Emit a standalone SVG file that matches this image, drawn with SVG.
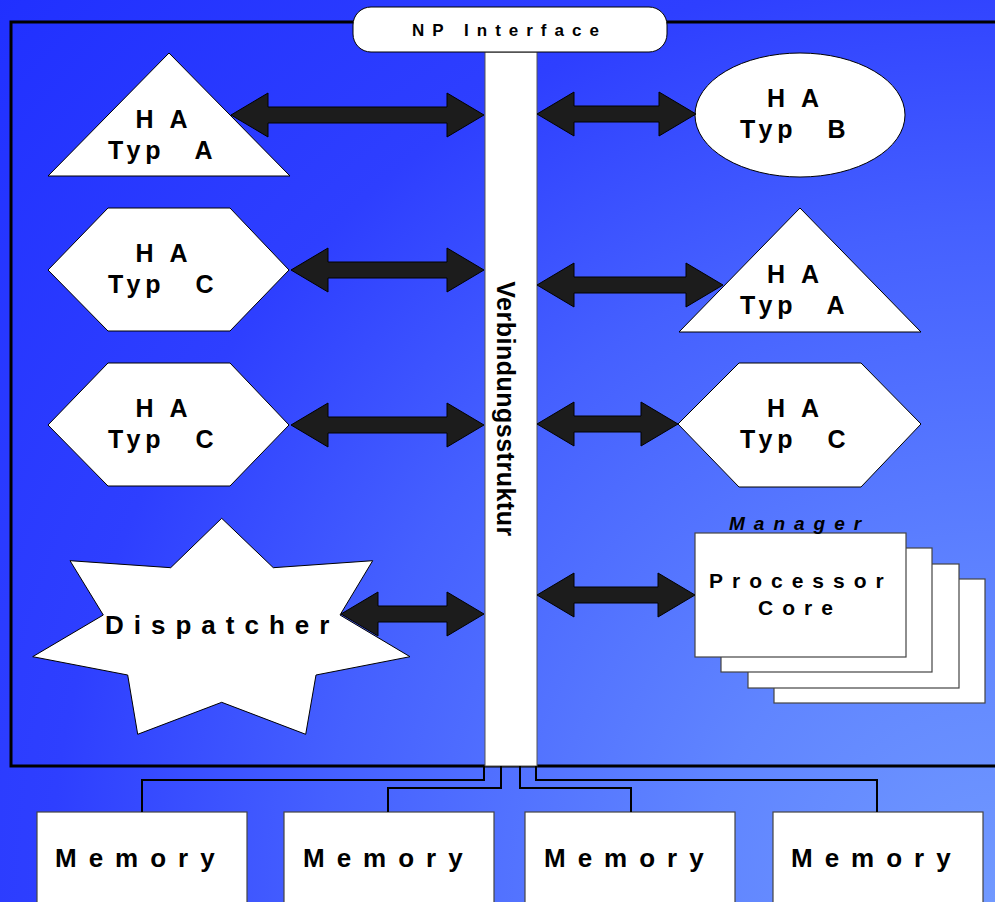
<svg xmlns="http://www.w3.org/2000/svg" width="995" height="902" viewBox="0 0 995 902">
  <defs>
    <radialGradient id="bg" gradientUnits="userSpaceOnUse" cx="995" cy="902" r="1350">
      <stop offset="0" stop-color="#7199ff"/>
      <stop offset="0.22" stop-color="#6085ff"/>
      <stop offset="0.5" stop-color="#4560ff"/>
      <stop offset="0.7" stop-color="#2e3fff"/>
      <stop offset="1" stop-color="#2030ff"/>
    </radialGradient>
    <style>
      .shape { fill:#fff; stroke:#000; stroke-width:1; }
      .box { fill:#fff; stroke:#444; stroke-width:1.2; }
      .arrow { fill:#1c1c1c; stroke:#000; stroke-width:1; }
      .wire { fill:none; stroke:#000; stroke-width:2; }
      .lbl { font-family:"Liberation Sans", Arial, sans-serif; font-weight:bold; fill:#000; }
      .ha { font-size:25px; letter-spacing:5px; }
      .wide { word-spacing:18px; }
    </style>
  </defs>

  <!-- background -->
  <rect x="0" y="0" width="995" height="902" fill="url(#bg)"/>

  <!-- chip frame -->
  <rect x="11" y="22" width="1000" height="744" fill="none" stroke="#000" stroke-width="3"/>

  <!-- interconnect bar -->
  <g id="verbindungsstruktur">
    <rect x="485" y="52" width="52" height="714" fill="#fff" stroke="#555" stroke-width="1"/>
    <text class="lbl" font-size="25" letter-spacing="0.5" text-anchor="middle" transform="translate(497,409) rotate(90)">Verbindungsstruktur</text>
  </g>

  <!-- network processor interface -->
  <g id="np-interface">
    <rect x="353" y="7" width="314" height="45" rx="18" ry="18" fill="#fff" stroke="#000" stroke-width="1"/>
    <text class="lbl" x="412" y="36" font-size="17" letter-spacing="8">NP Interface</text>
  </g>

  <!-- hardware accelerators, left column -->
  <g id="ha-a-left">
    <polygon class="shape" points="169,53 290,176 48,176"/>
    <text class="lbl ha" x="135.5" y="128">H A</text>
    <text class="lbl ha wide" x="108" y="159">Typ A</text>
  </g>
  <g id="ha-c-left-1">
    <polygon class="shape" points="48,270 108,208 230,208 289,270 230,331 108,331"/>
    <text class="lbl ha" x="135.5" y="262">H A</text>
    <text class="lbl ha wide" x="108" y="293">Typ C</text>
  </g>
  <g id="ha-c-left-2">
    <polygon class="shape" points="48,425 108,363 230,363 289,425 230,486 108,486"/>
    <text class="lbl ha" x="135.5" y="417">H A</text>
    <text class="lbl ha wide" x="108" y="448">Typ C</text>
  </g>
  <g id="dispatcher">
    <polygon class="shape" points="221.7,518.3 273.3,567.7 372.7,560.7 340,615 410,656.7 316,675 305.7,734.3 221.7,702.3 137.7,734.3 127.7,675 32.7,656.7 103.3,615 70,560.7 170.7,567.7"/>
    <text class="lbl" x="105" y="634" font-size="26" letter-spacing="10">Dispatcher</text>
  </g>

  <!-- hardware accelerators, right column -->
  <g id="ha-b-right">
    <ellipse class="shape" cx="800" cy="115" rx="105" ry="62"/>
    <text class="lbl ha" x="767" y="107">H A</text>
    <text class="lbl ha wide" x="740" y="138">Typ B</text>
  </g>
  <g id="ha-a-right">
    <polygon class="shape" points="800,208 921,332 679,332"/>
    <text class="lbl ha" x="767" y="283">H A</text>
    <text class="lbl ha wide" x="740" y="314">Typ A</text>
  </g>
  <g id="ha-c-right">
    <polygon class="shape" points="678,424 739,363 861,363 921,424 861,487 739,487"/>
    <text class="lbl ha" x="767" y="417">H A</text>
    <text class="lbl ha wide" x="740" y="448">Typ C</text>
  </g>
  <g id="processor-cores">
    <rect class="box" x="774" y="579" width="211" height="124"/>
    <rect class="box" x="748" y="564" width="211" height="124"/>
    <rect class="box" x="721" y="548" width="211" height="124"/>
    <rect class="box" x="695" y="533" width="211" height="124"/>
    <text class="lbl" x="729" y="530" font-size="19" font-style="italic" letter-spacing="9">Manager</text>
    <text class="lbl" x="709" y="588" font-size="21" letter-spacing="9">Processor</text>
    <text class="lbl" x="758" y="615" font-size="21" letter-spacing="9">Core</text>
  </g>

  <!-- memories -->
  <g id="memory-1">
    <rect class="box" x="37" y="812" width="210" height="100"/>
    <text class="lbl" x="55" y="867" font-size="26" letter-spacing="12">Memory</text>
  </g>
  <g id="memory-2">
    <rect class="box" x="284" y="812" width="210" height="100"/>
    <text class="lbl" x="303" y="867" font-size="26" letter-spacing="12">Memory</text>
  </g>
  <g id="memory-3">
    <rect class="box" x="525" y="812" width="210" height="100"/>
    <text class="lbl" x="544" y="867" font-size="26" letter-spacing="12">Memory</text>
  </g>
  <g id="memory-4">
    <rect class="box" x="773" y="812" width="210" height="100"/>
    <text class="lbl" x="791" y="867" font-size="26" letter-spacing="12">Memory</text>
  </g>

  <!-- connectors -->
  <g id="connectors">
    <polygon class="arrow" points="231,115 268,93 268,107 447,107 447,93 484,115 447,137 447,123 268,123 268,137"/>
    <polygon class="arrow" points="537,114 574,92 574,106 659,106 659,92 696,114 659,136 659,122 574,122 574,136"/>
    <polygon class="arrow" points="291,270 328,248 328,262 447,262 447,248 484,270 447,292 447,278 328,278 328,292"/>
    <polygon class="arrow" points="537,285 574,263 574,277 686,277 686,263 723,285 686,307 686,293 574,293 574,307"/>
    <polygon class="arrow" points="291,425 328,403 328,417 447,417 447,403 484,425 447,447 447,433 328,433 328,447"/>
    <polygon class="arrow" points="537,424 574,402 574,416 641,416 641,402 678,424 641,446 641,432 574,432 574,446"/>
    <polygon class="arrow" points="341,614 378,592 378,606 447,606 447,592 484,614 447,636 447,622 378,622 378,636"/>
    <polygon class="arrow" points="537,595 574,573 574,587 658,587 658,573 695,595 658,617 658,603 574,603 574,617"/>
    <path class="wire" d="M484 766 V780 H142 V812"/>
    <path class="wire" d="M501 766 V788 H388 V812"/>
    <path class="wire" d="M520 766 V788 H631 V812"/>
    <path class="wire" d="M536 766 V780 H877 V812"/>
  </g>
</svg>
